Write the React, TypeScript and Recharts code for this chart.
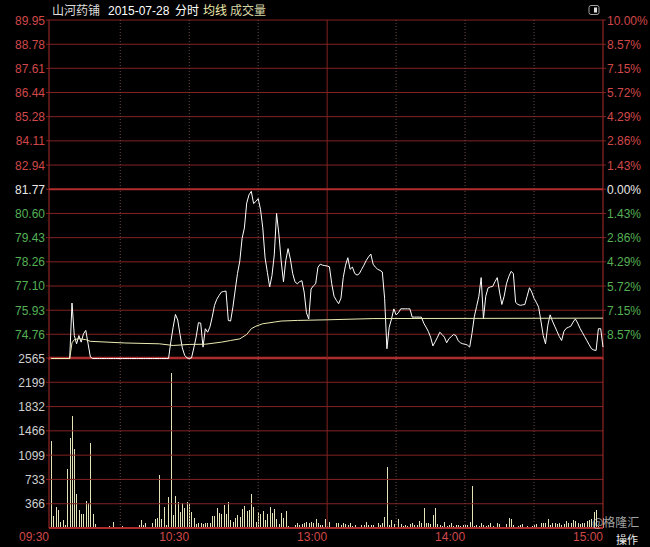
import React from 'react';
import { ComposedChart, Line, Bar, XAxis, YAxis, ReferenceLine } from 'recharts';

// ---------- data ----------
const stockName = '山河药铺';
const tradeDate = '2015-07-28';
const prevClose = 81.77;
const limitDown = 73.59;
const limitUp = 89.95;

// one price per minute, 09:30 .. 15:00 (241 points)
const prices = [
  73.59, 73.59, 73.59, 73.59, 73.59, 73.59, 73.59, 73.59, 73.59, 76.27,
  74.70, 74.30, 74.70, 74.38, 74.78, 74.95, 74.30, 73.66, 73.59, 73.59,
  73.59, 73.59, 73.59, 73.59, 73.59, 73.59, 73.59, 73.59, 73.59, 73.59,
  73.59, 73.59, 73.59, 73.59, 73.59, 73.59, 73.59, 73.59, 73.59, 73.59,
  73.59, 73.59, 73.59, 73.59, 73.59, 73.59, 73.59, 73.59, 73.59, 73.59,
  73.59, 73.59, 74.40, 75.10, 75.72, 75.45, 74.75, 74.10, 73.75, 73.62,
  73.59, 73.62, 74.10, 74.62, 75.32, 75.30, 74.14, 75.03, 74.86, 75.11,
  75.59, 76.16, 76.45, 76.64, 76.80, 76.83, 76.85, 75.43, 75.40, 76.07,
  76.90, 77.70, 78.30, 79.40, 79.90, 81.10, 81.50, 81.67, 81.08, 81.18,
  81.32, 80.80, 79.90, 78.45, 77.75, 77.05, 77.60, 78.60, 80.60, 79.60,
  78.30, 77.30, 78.33, 78.90, 78.40, 77.70, 77.30, 77.20, 77.30, 77.35,
  76.80, 75.80, 75.50, 76.95, 77.10, 77.20, 78.00, 78.15, 78.10, 78.08,
  78.06, 78.02, 77.20, 76.60, 76.40, 76.24, 76.50, 77.50, 78.10, 78.46,
  77.90, 78.01, 77.70, 77.62, 77.69, 77.90, 78.10, 78.33, 78.50, 78.64,
  78.15, 78.00, 77.90, 77.85, 77.77, 76.50, 74.06, 75.10, 75.50, 75.99,
  75.70, 75.80, 75.99, 75.99, 75.99, 75.99, 75.99, 75.59, 75.59, 75.59,
  75.59, 75.59, 75.30, 75.11, 74.90, 74.62, 74.20, 74.40, 74.62, 74.86,
  74.75, 74.62, 74.35, 74.55, 74.65, 74.75, 74.70, 74.45, 74.35, 74.30,
  74.28, 74.24, 74.14, 74.80, 75.60, 76.10, 76.60, 77.50, 75.51, 76.60,
  77.00, 77.05, 77.07, 77.30, 77.50, 76.80, 76.20, 76.60, 77.20, 77.55,
  77.80, 77.70, 76.30, 76.20, 76.16, 76.18, 76.20, 76.60, 77.01, 76.80,
  76.50, 76.30, 76.07, 75.40, 74.70, 74.30, 75.20, 75.70, 75.40, 75.15,
  74.90, 74.65, 74.46, 74.90, 75.05, 75.10, 75.15, 75.35, 75.50, 75.30,
  75.05, 74.85, 74.65, 74.45, 74.25, 74.06, 74.00, 73.98, 75.03, 75.03,
  74.14,
];

// average-price line vertices (minute index, price)
const avgMinutes = [0, 8, 9, 10, 12, 15, 17, 32, 47, 53, 60, 67, 74, 78, 82, 85, 87, 89, 92, 97, 100, 107, 120, 140, 240];
const avgValues = [73.59, 73.59, 74.35, 74.5, 74.55, 74.5, 74.42, 74.34, 74.3, 74.22, 74.27, 74.28, 74.38, 74.46, 74.54, 74.75, 75.03, 75.15, 75.27, 75.35, 75.4, 75.43, 75.46, 75.52, 75.54];

// volume per minute (241 bars)
const volumes = [
  1318, 181, 322, 272, 96, 121, 45, 895, 1358, 1690,
  1187, 508, 272, 211, 211, 407, 372, 1288, 211, 60,
  20, 15, 15, 20, 15, 25, 10, 96, 5, 15,
  20, 25, 10, 5, 15, 20, 20, 15, 45, 121,
  40, 80, 10, 20, 80, 131, 156, 800, 131, 322,
  45, 473, 2342, 196, 483, 397, 246, 372, 297, 387,
  372, 246, 146, 55, 70, 80, 55, 70, 80, 70,
  181, 181, 297, 231, 211, 347, 211, 397, 121, 96,
  156, 196, 171, 287, 332, 262, 272, 513, 322, 96,
  241, 211, 262, 121, 211, 322, 221, 287, 136, 60,
  221, 146, 262, 30, 20, 20, 45, 80, 45, 55,
  80, 96, 70, 85, 80, 136, 80, 45, 45, 136,
  30, 85, 20, 20, 70, 70, 45, 70, 60, 45,
  70, 30, 45, 20, 20, 45, 45, 85, 45, 45,
  45, 20, 70, 45, 80, 161, 925, 45, 121, 55,
  20, 131, 55, 30, 45, 30, 55, 70, 45, 45,
  106, 70, 297, 70, 70, 60, 196, 297, 60, 45,
  35, 96, 30, 45, 70, 30, 45, 45, 35, 45,
  45, 45, 85, 634, 35, 45, 30, 70, 45, 30,
  45, 80, 30, 20, 70, 55, 20, 20, 60, 146,
  131, 45, 20, 30, 45, 60, 20, 30, 20, 30,
  45, 55, 20, 70, 70, 80, 136, 45, 70, 70,
  60, 80, 45, 55, 106, 70, 80, 121, 111, 80,
  55, 80, 70, 106, 121, 136, 246, 272, 35, 20,
  146,
];

const priceTicks = [89.95, 88.78, 87.61, 86.44, 85.28, 84.11, 82.94, 81.77, 80.6, 79.43, 78.26, 77.1, 75.93, 74.76];
const pctTicks = [10, 8.57, 7.15, 5.72, 4.29, 2.86, 1.43, 0, -1.43, -2.86, -4.29, -5.72, -7.15, -8.57];
const volTicks = [366, 733, 1099, 1466, 1832, 2199, 2565];
const volMax = 2565;
const timeTicks = [-1, 60, 120, 180, 240];
const timeLabels = ['09:30', '10:30', '13:00', '14:00', '15:00'];
const dottedMinutes = [30, 60, 90, 150, 180, 210];
const noonMinute = 120;

const priceRows = prices.map((p, i) => ({ t: i, price: p }));
const avgRows = avgMinutes.map((t, k) => ({ t, avg: avgValues[k] }));
const volRows = volumes.map((v, i) => ({ t: i, vol: v }));

// the price axis runs a hair below the limit-down price so the limit-down line is not clipped
const pricePad = 0.0725;
const toPct = (p: number) => ((p - prevClose) / prevClose) * 100;
const priceDomain = [limitDown - pricePad, limitUp];
const pctDomain = [toPct(limitDown - pricePad), toPct(limitUp)];

// ---------- style ----------
const FONT = '"Liberation Sans", Arial, sans-serif';
const CJK = '"Noto Sans CJK SC", "Liberation Sans", sans-serif';
const RED = '#d04848';
const GREEN = '#55b055';
const WHITE = '#e8e8e8';
const GREY = '#cfcfcf';
const GRID = '#832222';
const STRONG = '#ad2c2c';
const DOT = '#704a4a';
const PRICE = '#ffffff';
const AVG = '#ecebb4';
const VOL = '#e4e2b8';

const priceColor = (v: number) => (v > prevClose + 1e-6 ? RED : v < prevClose - 1e-6 ? GREEN : WHITE);
const pctColor = (v: number) => (v > 1e-6 ? RED : v < -1e-6 ? GREEN : WHITE);

const PriceTick = (props: any) => {
  const { x, y, payload, textAnchor } = props;
  return (
    <text x={x} y={y} dy={4.5} textAnchor={textAnchor} fill={priceColor(payload.value)} fontSize={12} fontFamily={FONT}>
      {payload.value.toFixed(2)}
    </text>
  );
};

const PctTick = (props: any) => {
  const { x, y, payload, textAnchor } = props;
  return (
    <text x={x} y={y} dy={4.5} textAnchor={textAnchor} fill={pctColor(payload.value)} fontSize={12} fontFamily={FONT}>
      {Math.abs(payload.value).toFixed(2) + '%'}
    </text>
  );
};

const VolTick = (props: any) => {
  const { x, y, payload, textAnchor } = props;
  return (
    <text x={x} y={y} dy={4.5} textAnchor={textAnchor} fill={GREY} fontSize={12} fontFamily={FONT}>
      {String(payload.value)}
    </text>
  );
};

const TimeTick = (props: any) => {
  const { x, y, payload } = props;
  const idx = timeTicks.indexOf(payload.value);
  return (
    <text x={x} y={y} dy={8} textAnchor="end" fill={RED} fontSize={12} fontFamily={FONT}>
      {idx >= 0 ? timeLabels[idx] : ''}
    </text>
  );
};

const VolBar = (props: any) => {
  const { x, y, width, height } = props;
  if (!isFinite(x) || !isFinite(y) || !(height > 0)) return <g />;
  return <rect x={Math.round(x)} y={y} width={Math.max(1, width)} height={height} fill={VOL} shapeRendering="crispEdges" />;
};

const verticalLines = (axisId: string) => [
  ...dottedMinutes.map((m) => (
    <ReferenceLine key={'d' + m} yAxisId={axisId} x={m} stroke={DOT} strokeDasharray="1 2" strokeWidth={1} />
  )),
  <ReferenceLine key="noon" yAxisId={axisId} x={noonMinute} stroke={GRID} strokeWidth={1} />,
];

export default function App() {
  return (
    <div style={{ position: 'absolute', left: 0, top: 0, width: 650, height: 547, background: '#000', overflow: 'hidden' }}>
      {/* volume panel (drawn first; it carries the panel divider) */}
      <div style={{ position: 'absolute', left: 0, top: 340, zIndex: 1 }}>
        <ComposedChart width={650} height={207} data={volRows} margin={{ top: 18, right: 0, bottom: 0, left: 0 }}>
          <XAxis
            dataKey="t"
            type="number"
            domain={[-1, 240]}
            ticks={timeTicks}
            interval={0}
            tick={<TimeTick />}
            height={19}
            tickSize={0}
            tickMargin={5}
            axisLine={false}
            tickLine={false}
          />
          <YAxis
            yAxisId="v"
            orientation="left"
            width={49}
            type="number"
            domain={[0, volMax]}
            ticks={volTicks}
            interval={0}
            tick={<VolTick />}
            tickSize={3}
            tickMargin={1}
            axisLine={{ stroke: STRONG }}
            tickLine={{ stroke: GRID }}
          />
          <YAxis
            yAxisId="v2"
            orientation="right"
            width={47}
            type="number"
            domain={[0, volMax]}
            ticks={volTicks}
            interval={0}
            tick={<VolTick />}
            tickSize={3}
            tickMargin={1}
            axisLine={{ stroke: STRONG }}
            tickLine={{ stroke: GRID }}
          />
          {volTicks.slice(0, -1).map((v) => (
            <ReferenceLine key={'vh' + v} yAxisId="v" y={v} stroke={GRID} strokeWidth={1} />
          ))}
          {verticalLines('v')}
          <Bar yAxisId="v" dataKey="vol" fill={VOL} barSize={1} shape={<VolBar />} isAnimationActive={false} />
          <ReferenceLine yAxisId="v" y={volMax} stroke={STRONG} strokeWidth={2.5} />
          <ReferenceLine yAxisId="v" y={0} stroke={STRONG} strokeWidth={2} />
        </ComposedChart>
      </div>

      {/* price panel (on top, so its lines sit over the panel divider) */}
      <div style={{ position: 'absolute', left: 0, top: 0, zIndex: 2 }}>
        <ComposedChart width={650} height={362} data={priceRows} margin={{ top: 20, right: 0, bottom: 2, left: 0 }}>
          <XAxis dataKey="t" type="number" domain={[-1, 240]} hide />
          <YAxis
            yAxisId="p"
            orientation="left"
            width={49}
            type="number"
            domain={priceDomain}
            ticks={priceTicks}
            interval={0}
            tick={<PriceTick />}
            tickSize={3}
            tickMargin={1}
            axisLine={false}
            tickLine={{ stroke: GRID }}
          />
          <YAxis
            yAxisId="pct"
            orientation="right"
            width={47}
            type="number"
            domain={pctDomain}
            ticks={pctTicks}
            interval={0}
            tick={<PctTick />}
            tickSize={3}
            tickMargin={1}
            axisLine={false}
            tickLine={{ stroke: GRID }}
            allowDataOverflow
          />
          {pctTicks.map((v) => (
            <ReferenceLine key={'h' + v} yAxisId="pct" y={v} stroke={GRID} strokeWidth={1} />
          ))}
          {verticalLines('p')}
          <ReferenceLine yAxisId="pct" x={-1} stroke={STRONG} strokeWidth={1} />
          <ReferenceLine yAxisId="pct" x={240} stroke={STRONG} strokeWidth={1} />
          <ReferenceLine yAxisId="pct" y={0} stroke={STRONG} strokeWidth={2} />
          <Line yAxisId="p" dataKey="price" stroke={PRICE} strokeWidth={1} dot={false} isAnimationActive={false} />
          <Line yAxisId="p" data={avgRows} dataKey="avg" stroke={AVG} strokeWidth={1} dot={false} isAnimationActive={false} />
        </ComposedChart>
      </div>

      {/* title, icon, watermark */}
      <svg width={650} height={547} style={{ position: 'absolute', left: 0, top: 0, pointerEvents: 'none', zIndex: 3 }}>
        <text x={52} y={15} fontSize={12} fontFamily={CJK} fill="#dedede">{stockName}</text>
        <text x={108} y={15} fontSize={12} fontFamily={FONT} fill="#ffffff">{tradeDate}</text>
        <text x={175} y={15} fontSize={12} fontFamily={CJK} fill="#ffffff">分时</text>
        <text x={203} y={15} fontSize={12} fontFamily={CJK} fill="#f0eeb0">均线</text>
        <text x={230} y={15} fontSize={12} fontFamily={CJK} fill="#d8d6a8">成交量</text>
        <rect x={589} y={5.5} width={10} height={9} rx={2} fill="none" stroke="#a0a0a0" strokeWidth={1} />
        <rect x={594} y={7.5} width={3} height={5} fill="#e0e0e0" />
        <text x={592} y={527} fontSize={12} fontFamily={CJK} fill="rgba(215,215,215,0.75)">@格隆汇</text>
        <text x={616} y={544} fontSize={11} fontFamily={CJK} fill="#f0f0f0">操作</text>
      </svg>
    </div>
  );
}
